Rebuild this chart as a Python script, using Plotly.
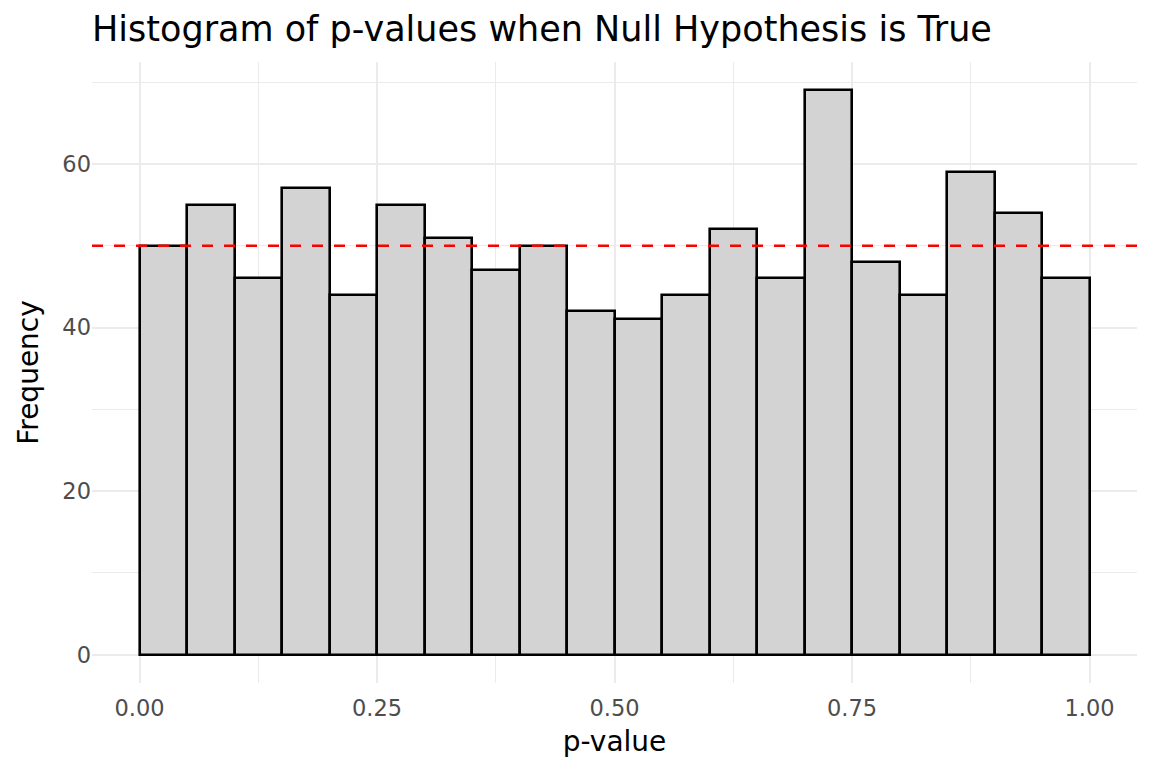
import plotly.graph_objects as go

# histogram of p-values, 20 bins of width 0.05 on [0, 1]
bin_left = [0.00, 0.05, 0.10, 0.15, 0.20, 0.25, 0.30, 0.35, 0.40, 0.45,
            0.50, 0.55, 0.60, 0.65, 0.70, 0.75, 0.80, 0.85, 0.90, 0.95]
counts = [50, 55, 46, 57, 44, 55, 51, 47, 50, 42,
          41, 44, 52, 46, 69, 48, 44, 59, 54, 46]
bin_width = 0.05
expected = 50  # n / bins

x_ticks = [0.00, 0.25, 0.50, 0.75, 1.00]
x_ticklabels = ["0.00", "0.25", "0.50", "0.75", "1.00"]
y_ticks = [0, 20, 40, 60]

FONT = "DejaVu Sans"
GRID = "#EBEBEB"

fig = go.Figure()
fig.add_trace(go.Bar(
    x=[b + bin_width / 2 for b in bin_left],
    y=counts,
    width=bin_width,
    marker=dict(color="#D3D3D3", line=dict(color="black", width=2.6)),
    showlegend=False,
    hoverinfo="x+y",
))

fig.add_hline(y=expected, line=dict(color="red", width=2.6, dash="11px,11px"))

# page adds an 8px body margin, so margins are trimmed by 8 on the left/top
fig.update_layout(
    width=1152, height=768,
    margin=dict(l=83.5, r=23, t=54, b=93),
    paper_bgcolor="white", plot_bgcolor="white",
    font=dict(family=FONT, color="black"),
    bargap=0,
    title=dict(text="Histogram of p-values when Null Hypothesis is True",
               font=dict(size=35, color="black"),
               x=0, xref="paper", xanchor="left",
               y=1 - 8 / 768, yref="container", yanchor="top"),
    xaxis=dict(
        range=[-0.05, 1.05],
        tickvals=x_ticks, ticktext=x_ticklabels,
        tickfont=dict(size=22.5, color="#4D4D4D"),
        ticklabelstandoff=9,
        showgrid=True, gridcolor=GRID, gridwidth=2,
        minor=dict(tickvals=[0.125, 0.375, 0.625, 0.875],
                   showgrid=True, gridcolor=GRID, gridwidth=1.2),
        zeroline=False, showline=False, ticks="",
        title=dict(text="p-value", font=dict(size=28), standoff=11),
    ),
    yaxis=dict(
        range=[-3.45, 72.45],
        tickvals=y_ticks,
        tickfont=dict(size=22.5, color="#4D4D4D"),
        ticklabelstandoff=0,
        showgrid=True, gridcolor=GRID, gridwidth=2,
        minor=dict(tickvals=[10, 30, 50, 70],
                   showgrid=True, gridcolor=GRID, gridwidth=1.2),
        zeroline=False, showline=False, ticks="",
        title=dict(text="Frequency", font=dict(size=28), standoff=15),
    ),
)

fig.write_html("out.html")
